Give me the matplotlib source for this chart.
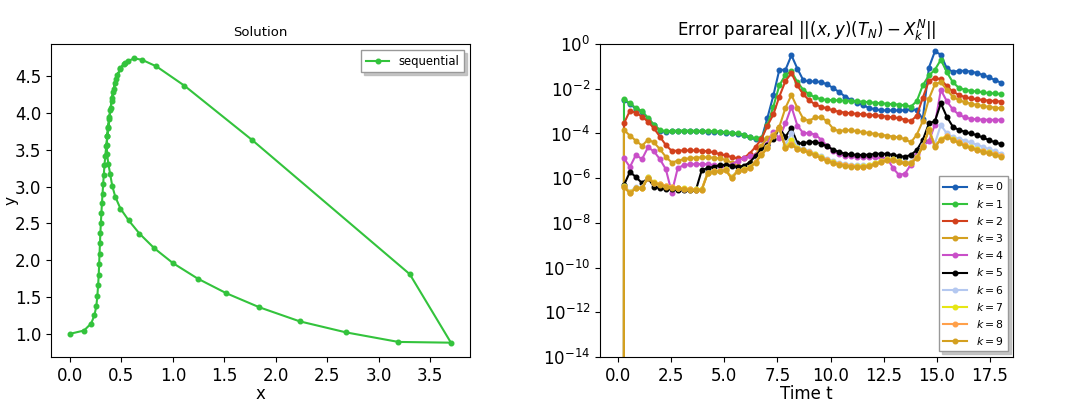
import numpy as np
import matplotlib
matplotlib.use('Agg')
import matplotlib.pyplot as plt
from matplotlib.ticker import NullLocator

# sequential solution (x, y)
seq_x = [0.000, 0.136, 0.205, 0.237, 0.256, 0.266, 0.273, 0.279, 0.283, 0.287,
         0.291, 0.295, 0.300, 0.305, 0.310, 0.316, 0.322, 0.328, 0.335, 0.343,
         0.352, 0.361, 0.371, 0.382, 0.394, 0.408, 0.425, 0.447, 0.490, 0.535,
         0.620, 0.700, 0.840, 1.110, 1.770, 3.300, 3.700, 3.190, 2.680, 2.230,
         1.840, 1.520, 1.240, 1.000, 0.820, 0.675, 0.570, 0.490, 0.440, 0.410,
         0.390, 0.372, 0.360, 0.357, 0.362, 0.371, 0.381, 0.392, 0.405, 0.420,
         0.438, 0.460, 0.490, 0.520, 0.560]
seq_y = [1.000, 1.045, 1.140, 1.250, 1.380, 1.520, 1.660, 1.800, 1.950, 2.090,
         2.230, 2.370, 2.510, 2.640, 2.770, 2.900, 3.030, 3.160, 3.290, 3.420,
         3.550, 3.680, 3.810, 3.940, 4.070, 4.200, 4.330, 4.460, 4.610, 4.680,
         4.740, 4.720, 4.630, 4.370, 3.630, 1.810, 0.880, 0.890, 1.020, 1.170,
         1.360, 1.550, 1.750, 1.960, 2.160, 2.360, 2.540, 2.700, 2.860, 3.010,
         3.170, 3.310, 3.440, 3.560, 3.680, 3.800, 3.920, 4.040, 4.160, 4.280,
         4.400, 4.510, 4.600, 4.660, 4.710]

# parareal time points
time_t = [0.28, 0.56, 0.84, 1.13, 1.41, 1.69, 1.97, 2.25, 2.53, 2.81,
          3.09, 3.38, 3.66, 3.94, 4.22, 4.50, 4.78, 5.06, 5.34, 5.63,
          5.91, 6.19, 6.47, 6.75, 7.03, 7.31, 7.59, 7.88, 8.16, 8.44,
          8.72, 9.00, 9.28, 9.56, 9.84, 10.13, 10.41, 10.69, 10.97, 11.25,
          11.53, 11.81, 12.09, 12.38, 12.66, 12.94, 13.22, 13.50, 13.78, 14.06,
          14.34, 14.63, 14.91, 15.19, 15.47, 15.75, 16.03, 16.31, 16.59, 16.88,
          17.16, 17.44, 17.72, 18.00]

# log10 of the error for each iteration k
log_err_k0 = [-2.50, -2.68, -2.89, -3.03, -3.33, -3.63, -3.87, -3.93, -3.91, -3.90,
              -3.90, -3.90, -3.91, -3.91, -3.92, -3.93, -3.95, -3.97, -4.00, -4.03,
              -4.08, -4.18, -4.25, -4.25, -3.30, -2.30, -1.15, -1.15, -0.50, -1.10,
              -1.62, -1.67, -1.67, -1.70, -1.80, -1.97, -2.15, -2.35, -2.50, -2.62,
              -2.74, -2.85, -2.92, -2.96, -2.97, -2.97, -2.97, -2.96, -2.92, -2.95,
              -3.35, -1.05, -0.33, -0.47, -1.08, -1.24, -1.20, -1.19, -1.23, -1.29,
              -1.38, -1.48, -1.60, -1.72]
log_err_k1 = [-2.47, -2.65, -2.86, -3.00, -3.30, -3.60, -3.84, -3.90, -3.88, -3.87,
              -3.87, -3.87, -3.88, -3.88, -3.89, -3.90, -3.92, -3.94, -3.97, -4.00,
              -4.05, -4.15, -4.22, -4.22, -3.60, -2.80, -1.85, -1.37, -1.22, -1.70,
              -2.05, -2.25, -2.38, -2.47, -2.50, -2.51, -2.52, -2.53, -2.55, -2.56,
              -2.58, -2.60, -2.63, -2.65, -2.67, -2.69, -2.71, -2.74, -2.80, -2.55,
              -1.85, -1.40, -1.15, -0.70, -1.25, -1.70, -1.95, -2.04, -2.09, -2.12,
              -2.16, -2.19, -2.21, -2.23]
log_err_k2 = [-3.55, -2.98, -3.07, -3.25, -3.47, -3.77, -4.14, -4.52, -4.78, -4.77,
              -4.76, -4.76, -4.76, -4.77, -4.80, -4.85, -4.92, -4.98, -5.05, -5.12,
              -5.10, -4.90, -4.60, -4.25, -3.65, -3.15, -2.35, -1.65, -1.30, -1.85,
              -2.25, -2.52, -2.70, -2.80, -2.88, -2.97, -3.03, -3.07, -3.10, -3.12,
              -3.14, -3.17, -3.19, -3.21, -3.25, -3.28, -3.32, -3.38, -3.45, -3.20,
              -2.40, -1.65, -1.52, -1.57, -1.88, -2.12, -2.27, -2.37, -2.43, -2.47,
              -2.50, -2.53, -2.55, -2.57]
log_err_k3 = [-3.84, -4.10, -4.32, -4.55, -4.28, -4.40, -4.70, -5.05, -5.30, -5.22,
              -5.15, -5.11, -5.08, -5.07, -5.07, -5.09, -5.12, -5.18, -5.30, -5.45,
              -5.50, -5.30, -4.95, -4.55, -4.20, -4.05, -3.70, -2.85, -2.28, -2.85,
              -3.35, -3.42, -3.28, -3.28, -3.45, -3.80, -3.90, -3.85, -3.86, -3.90,
              -3.94, -3.98, -4.02, -4.06, -4.10, -4.14, -4.18, -4.25, -4.40, -4.05,
              -3.45, -2.45, -1.80, -1.70, -2.05, -2.35, -2.50, -2.60, -2.67, -2.72,
              -2.77, -2.81, -2.84, -2.87]
log_err_k4 = [-5.11, -5.50, -4.96, -5.15, -4.62, -4.80, -5.15, -5.60, -6.65, -5.55,
              -5.42, -5.38, -5.37, -5.37, -5.38, -5.42, -5.47, -5.50, -5.40, -5.22,
              -5.10, -5.02, -4.96, -4.80, -4.45, -3.92, -4.20, -3.55, -2.80, -3.65,
              -3.99, -3.98, -4.05, -4.28, -4.55, -4.78, -4.92, -4.99, -5.03, -5.05,
              -5.06, -5.07, -5.07, -5.08, -5.10, -5.55, -5.86, -5.80, -5.40, -4.90,
              -4.55, -4.35, -3.60, -2.05, -2.55, -2.92, -3.15, -3.28, -3.34, -3.37,
              -3.38, -3.39, -3.39, -3.39]
log_err_k5 = [-6.31, -5.72, -5.95, -6.22, -6.00, -6.38, -6.45, -6.48, -6.50, -6.52,
              -6.54, -6.55, -6.55, -5.64, -5.55, -5.49, -5.42, -5.40, -5.45, -5.50,
              -5.45, -5.30, -5.00, -4.72, -4.50, -4.25, -3.77, -4.14, -3.77, -4.44,
              -4.44, -4.38, -4.38, -4.45, -4.58, -4.72, -4.84, -4.90, -4.94, -4.96,
              -4.96, -4.95, -4.92, -4.90, -4.92, -4.96, -5.02, -5.04, -4.96, -4.74,
              -4.30, -3.55, -3.45, -2.65, -3.25, -3.69, -3.84, -3.92, -4.00, -4.07,
              -4.18, -4.29, -4.39, -4.47]
log_err_k6 = [-6.35, -6.60, -6.40, -6.40, -5.95, -6.20, -6.28, -6.35, -6.40, -6.44,
              -6.48, -6.50, -6.50, -6.50, -5.75, -5.68, -5.66, -5.60, -5.95, -5.66,
              -5.60, -5.50, -5.25, -4.90, -4.60, -4.05, -3.80, -4.50, -4.00, -4.60,
              -4.68, -4.78, -4.90, -5.02, -5.14, -5.25, -5.32, -5.37, -5.41, -5.42,
              -5.42, -5.40, -5.32, -5.22, -5.15, -5.15, -5.22, -5.28, -5.28, -5.05,
              -4.52, -3.90, -4.45, -3.62, -4.00, -4.15, -4.25, -4.32, -4.40, -4.50,
              -4.60, -4.70, -4.80, -4.90]
log_err_k7 = [-6.37, -6.64, -6.42, -6.42, -5.96, -6.19, -6.26, -6.34, -6.38, -6.42,
              -6.46, -6.48, -6.49, -6.49, -5.75, -5.67, -5.66, -5.60, -5.97, -5.66,
              -5.60, -5.51, -5.26, -4.92, -4.62, -4.08, -3.75, -4.62, -4.30, -4.66,
              -4.72, -4.82, -4.94, -5.06, -5.18, -5.29, -5.36, -5.41, -5.45, -5.46,
              -5.46, -5.43, -5.34, -5.24, -5.16, -5.16, -5.24, -5.30, -5.30, -5.07,
              -4.55, -3.82, -4.55, -4.25, -4.10, -4.25, -4.38, -4.51, -4.61, -4.70,
              -4.78, -4.85, -4.92, -5.00]
log_err_k8 = [-6.38, -6.66, -6.44, -6.44, -5.98, -6.21, -6.28, -6.36, -6.40, -6.44,
              -6.48, -6.50, -6.51, -6.51, -5.77, -5.69, -5.68, -5.62, -5.99, -5.68,
              -5.62, -5.53, -5.28, -4.94, -4.64, -4.08, -3.76, -4.64, -4.48, -4.68,
              -4.74, -4.84, -4.96, -5.08, -5.20, -5.31, -5.38, -5.43, -5.47, -5.48,
              -5.48, -5.45, -5.36, -5.26, -5.18, -5.18, -5.26, -5.32, -5.32, -5.09,
              -4.57, -3.83, -4.57, -4.27, -4.12, -4.27, -4.40, -4.53, -4.63, -4.72,
              -4.80, -4.87, -4.94, -5.02]
log_err_k9 = [-6.40, -6.68, -6.46, -6.46, -6.00, -6.23, -6.30, -6.38, -6.42, -6.46,
              -6.50, -6.52, -6.53, -6.53, -5.79, -5.71, -5.70, -5.64, -6.01, -5.70,
              -5.64, -5.55, -5.30, -4.96, -4.66, -4.10, -3.77, -4.66, -4.50, -4.70,
              -4.76, -4.86, -4.98, -5.10, -5.22, -5.33, -5.40, -5.45, -5.49, -5.50,
              -5.50, -5.47, -5.38, -5.28, -5.20, -5.20, -5.28, -5.34, -5.34, -5.11,
              -4.59, -3.84, -4.59, -4.29, -4.14, -4.29, -4.42, -4.55, -4.65, -4.74,
              -4.82, -4.89, -4.96, -5.04]

all_log_err = [log_err_k0, log_err_k1, log_err_k2, log_err_k3, log_err_k4,
               log_err_k5, log_err_k6, log_err_k7, log_err_k8, log_err_k9]
# iterations whose first interval is exact (error 0 at t = 0)
exact_start = [False, True, True, True, False, False, False, False, False, True]

colors = ['#1a5fb4', '#33c33c', '#d2401c', '#d4a020', '#c94fc8',
          '#000000', '#b4c8f0', '#e6e614', '#ffa04a', '#d4a020']

shadow_style = {'color': '0.72', 'alpha': 0.8}

fig = plt.figure(figsize=(10.75, 4.01), dpi=100)
ax1 = fig.add_axes([0.0474, 0.110, 0.3898, 0.780])
ax2 = fig.add_axes([0.5581, 0.110, 0.3845, 0.780])

# left: solution
ax1.plot(seq_x, seq_y, '-o', color='#33c33c', lw=1.5, ms=3.3, label='sequential')
ax1.set_title('Solution', fontsize=9.5)
ax1.set_xlabel('x', fontsize=12, labelpad=0)
ax1.set_ylabel('y', fontsize=11)
ax1.yaxis.set_label_coords(-0.078, 0.5)
ax1.set_xticks(np.arange(0, 3.6, 0.5))
ax1.tick_params(labelsize=12)
ax1.legend(loc='upper right', fontsize=8.4, shadow=shadow_style, fancybox=False,
           framealpha=1, edgecolor='0.6')

# right: parareal error
for k, log_err in enumerate(all_log_err):
    err = list(10.0 ** np.array(log_err))
    tt = list(time_t)
    if exact_start[k]:
        err = [0.0] + err
        tt = [0.0] + tt
    ax2.plot(tt, err, '-o', color=colors[k], lw=1.5, ms=3.3, label=r'$k = %d$' % k)

ax2.set_yscale('log', nonpositive='clip')
ax2.set_ylim(1e-14, 1)
ax2.set_xlim(-0.85, 18.6)
ax2.set_yticks([10.0 ** p for p in range(-14, 1, 2)])
ax2.yaxis.set_minor_locator(NullLocator())
ax2.set_xticks(np.arange(0, 17.6, 2.5))
ax2.set_title(r'Error parareal $||(x,y)(T_N) - X_k^N||$', fontsize=12)
ax2.set_xlabel('Time t', fontsize=12, labelpad=0)
ax2.tick_params(labelsize=12)
ax2.legend(loc='lower right', fontsize=7.8, labelspacing=0.48, handlelength=2.2,
           shadow=shadow_style, fancybox=False, framealpha=1, edgecolor='0.6')

fig.savefig('out.png', dpi=100)
